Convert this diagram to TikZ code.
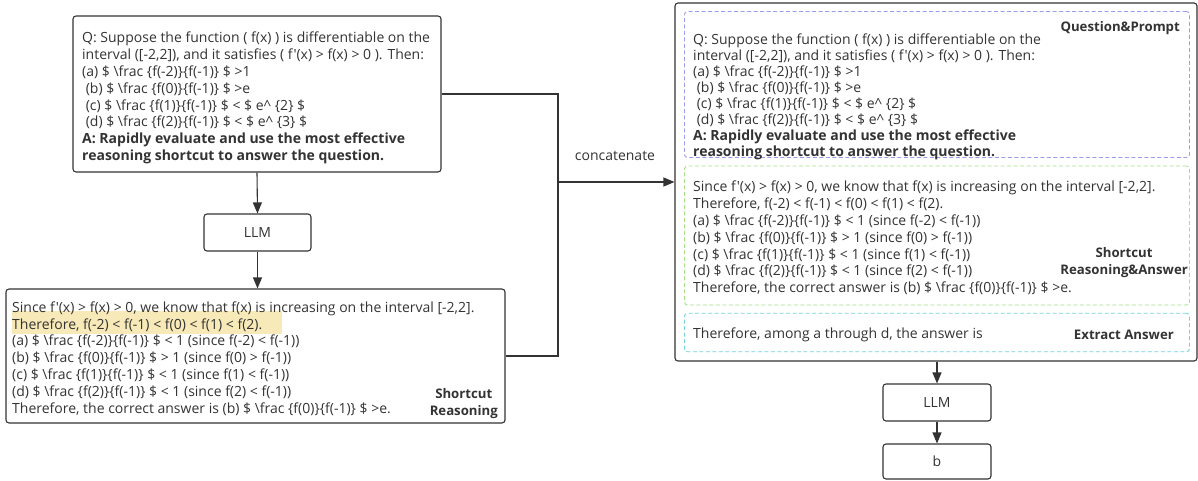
\documentclass[tikz,border=0pt]{standalone}
\usepackage{fontspec}
\setmainfont{Open Sans}[Ligatures=TeXOff]
\usetikzlibrary{arrows.meta}
\definecolor{txt}{HTML}{333333}
\definecolor{hl}{HTML}{F8EAB8}
\definecolor{qblue}{HTML}{9C9CEE}
\definecolor{rgreen}{HTML}{A4E184}
\definecolor{acyan}{HTML}{74D3DC}
\newcommand{\fractxt}{\textbackslash frac }
\begin{document}
\begin{tikzpicture}[x=1pt, y=-1pt, every node/.style={text=txt, inner sep=0pt},
  frame/.style={draw=txt, line width=1.1pt, rounded corners=3pt},
  dframe/.style={draw=#1, line width=0.9pt, dash pattern=on 4pt off 2.5pt, rounded corners=3pt},
  bodyfont/.style={font=\fontsize{14}{#1}\selectfont},
  bodyfont/.default=16.8,
  txtblock/.style={align=left, anchor=west},
  tag/.style={font=\fontsize{13.2}{16.8}\selectfont\bfseries, align=center},
  link/.style={draw=txt, line width=1.1pt},
  flow/.style={link, -{Triangle[length=11pt, width=9pt]}}]
\useasboundingbox (0,0) rectangle (1198,481);
\node[frame, minimum width=368pt, minimum height=156pt] (qbox) at (257,94) {};
\node[bodyfont, txtblock] (qtext) at (82,98) {Q: Suppose the function ( f(x) ) is differentiable on the\\interval ([-2,2]), and it satisfies ( f'(x) > f(x) > 0 ). Then:\\(a) \$ \fractxt\{f(-2)\}\{f(-1)\} \$ >1\\\ (b) \$ \fractxt\{f(0)\}\{f(-1)\} \$ >e\\\ (c) \$ \fractxt\{f(1)\}\{f(-1)\} \$ < \$ e\textasciicircum\ \{2\} \$\\\ (d) \$ \fractxt\{f(2)\}\{f(-1)\} \$ < \$ e\textasciicircum\ \{3\} \$\\\textbf{A: Rapidly evaluate and use the most effective}\\\textbf{reasoning shortcut to answer the question.}};
\node[frame, bodyfont, minimum width=107pt, minimum height=37pt] (llmA) at (257.5,232.5) {LLM};
\fill[hl] (12,311) rectangle (282,334);
\node[frame, minimum width=499pt, minimum height=134pt] (scbox) at (255.5,356) {};
\node[bodyfont, txtblock] (sctext) at (12,358.5) {Since f'(x) > f(x) > 0, we know that f(x) is increasing on the interval [-2,2].\\Therefore, f(-2) < f(-1) < f(0) < f(1) < f(2).\\(a) \$ \fractxt\{f(-2)\}\{f(-1)\} \$ < 1 (since f(-2) < f(-1))\\(b) \$ \fractxt\{f(0)\}\{f(-1)\} \$ > 1 (since f(0) > f(-1))\\(c) \$ \fractxt\{f(1)\}\{f(-1)\} \$ < 1 (since f(1) < f(-1))\\(d) \$ \fractxt\{f(2)\}\{f(-1)\} \$ < 1 (since f(2) < f(-1))\\Therefore, the correct answer is (b) \$ \fractxt\{f(0)\}\{f(-1)\} \$ >e.};
\node[tag, anchor=east] (sctag) at (498,403.5) {Shortcut\\Reasoning};
\node[frame, minimum width=522pt, minimum height=358pt] (bigbox) at (936,182) {};
\node[dframe=qblue, minimum width=505pt, minimum height=146pt] (pbox) at (937,84.5) {};
\node[bodyfont=16, txtblock] (ptext) at (693,96.5) {Q: Suppose the function ( f(x) ) is differentiable on the\\interval ([-2,2]), and it satisfies ( f'(x) > f(x) > 0 ). Then:\\(a) \$ \fractxt\{f(-2)\}\{f(-1)\} \$ >1\\\ (b) \$ \fractxt\{f(0)\}\{f(-1)\} \$ >e\\\ (c) \$ \fractxt\{f(1)\}\{f(-1)\} \$ < \$ e\textasciicircum\ \{2\} \$\\\ (d) \$ \fractxt\{f(2)\}\{f(-1)\} \$ < \$ e\textasciicircum\ \{3\} \$\\\textbf{A: Rapidly evaluate and use the most effective}\\\textbf{reasoning shortcut to answer the question.}};
\node[tag, anchor=east] (ptag) at (1180,28) {Question\&Prompt};
\node[dframe=rgreen, minimum width=505pt, minimum height=139pt] (rbox) at (937,235.5) {};
\node[bodyfont, txtblock] (rtext) at (693,238) {Since f'(x) > f(x) > 0, we know that f(x) is increasing on the interval [-2,2].\\Therefore, f(-2) < f(-1) < f(0) < f(1) < f(2).\\(a) \$ \fractxt\{f(-2)\}\{f(-1)\} \$ < 1 (since f(-2) < f(-1))\\(b) \$ \fractxt\{f(0)\}\{f(-1)\} \$ > 1 (since f(0) > f(-1))\\(c) \$ \fractxt\{f(1)\}\{f(-1)\} \$ < 1 (since f(1) < f(-1))\\(d) \$ \fractxt\{f(2)\}\{f(-1)\} \$ < 1 (since f(2) < f(-1))\\Therefore, the correct answer is (b) \$ \fractxt\{f(0)\}\{f(-1)\} \$ >e.};
\node[tag, anchor=east] (rtag) at (1188,262.5) {Shortcut\\Reasoning\&Answer};
\node[dframe=acyan, minimum width=505pt, minimum height=38.5pt] (ebox) at (937,332.5) {};
\node[bodyfont, txtblock] (etext) at (693,335) {Therefore, among a through d, the answer is};
\node[tag, anchor=east] (etag) at (1174,335) {Extract Answer};
\node[frame, bodyfont, minimum width=108pt, minimum height=37pt] (llmB) at (937,402.5) {LLM};
\node[frame, bodyfont, minimum width=108pt, minimum height=35pt] (ans) at (937,461.5) {b};
\coordinate (join) at (558,182);
\node[bodyfont] (cat) at (615,156) {concatenate};
\draw [link] (qbox.east) -| (join);
\draw [link] (scbox.east) -| (join);
\draw [flow] (join) -- (bigbox.west);
\draw [flow] (qbox.south) -- (llmA.north);
\draw [flow] (llmA.south) -- (llmA.south |- scbox.north);
\draw [flow] (llmB.north |- bigbox.south) -- (llmB.north);
\draw [flow] (llmB.south) -- (ans.north);
\end{tikzpicture}
\end{document}
